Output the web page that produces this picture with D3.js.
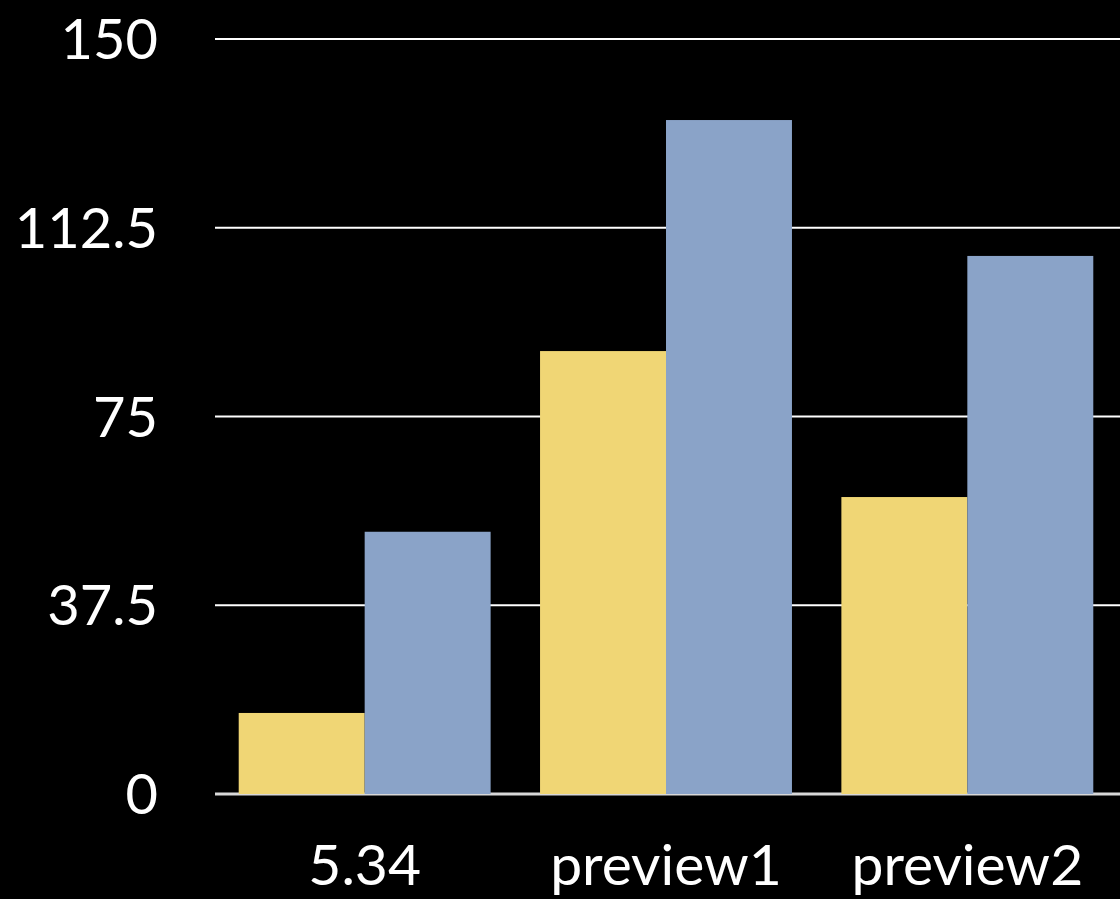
<!DOCTYPE html>
<html>
<head>
<meta charset="utf-8">
<script src="https://cdn.jsdelivr.net/npm/d3@7"></script>
<style>
  html, body { margin: 0; padding: 0; background: #000; }
  svg { display: block; }
  text { font-family: Lato, "Open Sans", sans-serif; fill: #fff; }
</style>
</head>
<body>
<svg id="chart" width="1120" height="899"></svg>
<script>
// data
var categories = ["5.34", "preview1", "preview2"];
var seriesA = [16.1, 88.0, 59.0];    // yellow
var seriesB = [52.1, 133.9, 106.9];  // blue
var yTicks = [0, 37.5, 75, 112.5, 150];

var svg = d3.select("#chart");

var x = d3.scaleBand()
    .domain(categories)
    .range([214, 1118])
    .paddingInner(0.164)
    .paddingOuter(0.082);

var y = d3.scaleLinear()
    .domain([0, 150])
    .range([794, 39]);

// gridlines
svg.append("g")
  .selectAll("line")
  .data(yTicks)
  .enter()
  .append("line")
  .attr("x1", 215)
  .attr("x2", 1120)
  .attr("y1", function(d) { return y(d); })
  .attr("y2", function(d) { return y(d); })
  .attr("stroke", function(d) { return d === 0 ? "#d8d8d8" : "#fff"; })
  .attr("stroke-width", function(d) { return d === 0 ? 3 : 2; });

// y labels
svg.append("g")
  .selectAll("text")
  .data(yTicks)
  .enter()
  .append("text")
  .attr("x", 158)
  .attr("y", function(d) { return y(d); })
  .attr("dy", "0.36em")
  .attr("text-anchor", "end")
  .attr("font-size", 56)
  .text(function(d) { return d; });

// bars
var half = x.bandwidth() / 2;
var groups = svg.append("g")
  .selectAll("g")
  .data(categories)
  .enter()
  .append("g")
  .attr("transform", function(d) { return "translate(" + x(d) + ",0)"; });

groups.append("rect")
  .attr("x", 0)
  .attr("width", half)
  .attr("y", function(d, i) { return y(seriesA[i]); })
  .attr("height", function(d, i) { return y(0) - y(seriesA[i]); })
  .attr("fill", "#f0d675");

groups.append("rect")
  .attr("x", half)
  .attr("width", half)
  .attr("y", function(d, i) { return y(seriesB[i]); })
  .attr("height", function(d, i) { return y(0) - y(seriesB[i]); })
  .attr("fill", "#8aa3c8");

// category labels
svg.append("g")
  .selectAll("text")
  .data(categories)
  .enter()
  .append("text")
  .attr("x", function(d) { return x(d) + half; })
  .attr("y", 885)
  .attr("text-anchor", "middle")
  .attr("font-size", 57)
  .text(function(d) { return d; });
</script>
</body>
</html>
